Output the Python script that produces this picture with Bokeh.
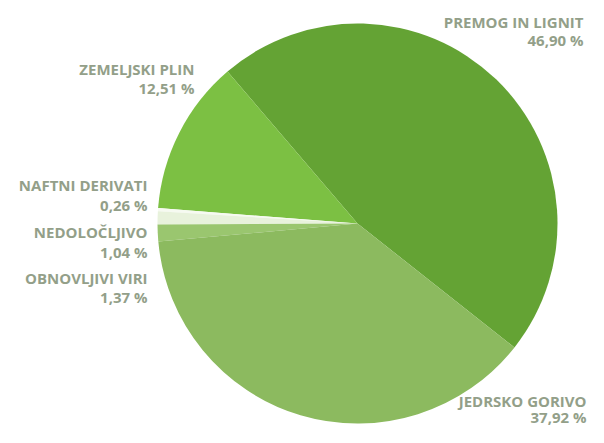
import math
from bokeh.plotting import figure
from bokeh.models import Range1d, ColumnDataSource
from bokeh.core.properties import value
from bokeh.embed import file_html
from bokeh.resources import INLINE

# ---- data ----
categories = ["PREMOG IN LIGNIT", "ZEMELJSKI PLIN", "NAFTNI DERIVATI",
              "NEDOLOČLJIVO", "OBNOVLJIVI VIRI", "JEDRSKO GORIVO"]
shares = [46.90, 12.51, 0.26, 1.04, 1.37, 37.92]
colors = ["#64a334", "#7cc043", "#f6faf1", "#e8f2dc", "#9ac66f", "#8cba5f"]

# ---- layout ----
W, H = 588, 427
def py(y_px):  # picture row -> data y (y up)
    return H - y_px

cx, cy, r = 357, py(223), 200
start_deg = -38.3

starts, ends = [], []
a = math.radians(start_deg)
for s in shares:
    starts.append(a)
    a += s / 100.0 * 2 * math.pi
    ends.append(a)

src = ColumnDataSource(dict(start=starts, end=ends, color=colors))

p = figure(width=W, height=H, output_backend="svg", toolbar_location=None,
           x_range=Range1d(0, W), y_range=Range1d(0, H),
           x_axis_location=None, y_axis_location=None, min_border=0)
p.grid.visible = False
p.outline_line_color = None
p.background_fill_color = "white"

p.wedge(x=cx, y=cy, radius=r, start_angle="start", end_angle="end",
        fill_color="color", line_color=None, source=src)

# label anchors (right-aligned): name row, value row
label_pos = [
    (583, 21, 39),
    (194, 68, 87),
    (147, 184, 204),
    (147, 231, 251),
    (147, 277, 296),
    (586, 400, 416),
]
lx, ly1, ly2, names, vals = [], [], [], [], []
for (x, y1, y2), c, s in zip(label_pos, categories, shares):
    lx.append(x)
    ly1.append(py(y1))
    ly2.append(py(y2))
    names.append(c)
    vals.append(f"{s:.2f}".replace(".", ",") + " %")

txt_color = "#939f89"
p.text(x=lx, y=ly1, text=names, text_align="right", text_baseline="middle",
       text_font=value("Open Sans"), text_font_style="bold",
       text_font_size="15px", text_color=txt_color)
p.text(x=lx, y=ly2, text=vals, text_align="right", text_baseline="middle",
       text_font=value("Open Sans"), text_font_style="bold",
       text_font_size="15px", text_color=txt_color)

open("out.html", "w").write(file_html(p, INLINE))
